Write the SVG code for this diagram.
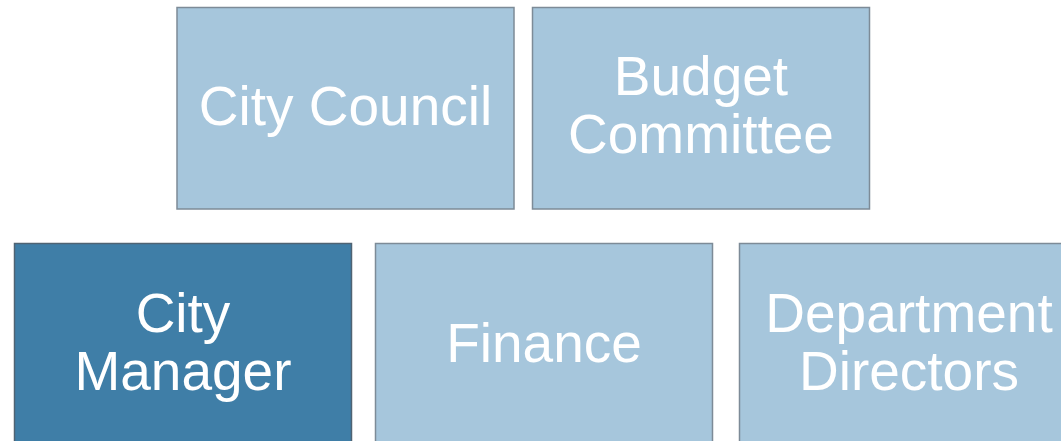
<svg xmlns="http://www.w3.org/2000/svg" width="1061" height="441" viewBox="0 0 1061 441">
<style>
.box{fill:#a6c6dc;stroke:#7d8b97;stroke-width:1.5}
.dark{fill:#3f7ea7;stroke:#4f6373;stroke-width:1.5}
.lbl{font-family:"Liberation Sans",Arial,sans-serif;font-size:55px;fill:#ffffff;text-anchor:middle}
</style>
<rect width="1061" height="441" fill="#ffffff"/>
<g id="connectors"></g>
<g id="city-council">
<rect class="box" x="177" y="7.5" width="337" height="201.5"/>
<text class="lbl" x="345.5" y="125">City Council</text>
</g>
<g id="budget-committee">
<rect class="box" x="532.5" y="7.5" width="337" height="201.5"/>
<text class="lbl" x="701" y="95">Budget</text>
<text class="lbl" x="701" y="153">Committee</text>
</g>
<g id="city-manager">
<rect class="dark" x="14.5" y="243.5" width="337" height="202"/>
<text class="lbl" x="183" y="332">City</text>
<text class="lbl" x="183" y="390">Manager</text>
</g>
<g id="finance">
<rect class="box" x="375.5" y="243.5" width="337" height="202"/>
<text class="lbl" x="544" y="362">Finance</text>
</g>
<g id="department-directors">
<rect class="box" x="739.5" y="243.5" width="337" height="202"/>
<text class="lbl" x="909" y="332">Department</text>
<text class="lbl" x="909" y="390">Directors</text>
</g>
</svg>
